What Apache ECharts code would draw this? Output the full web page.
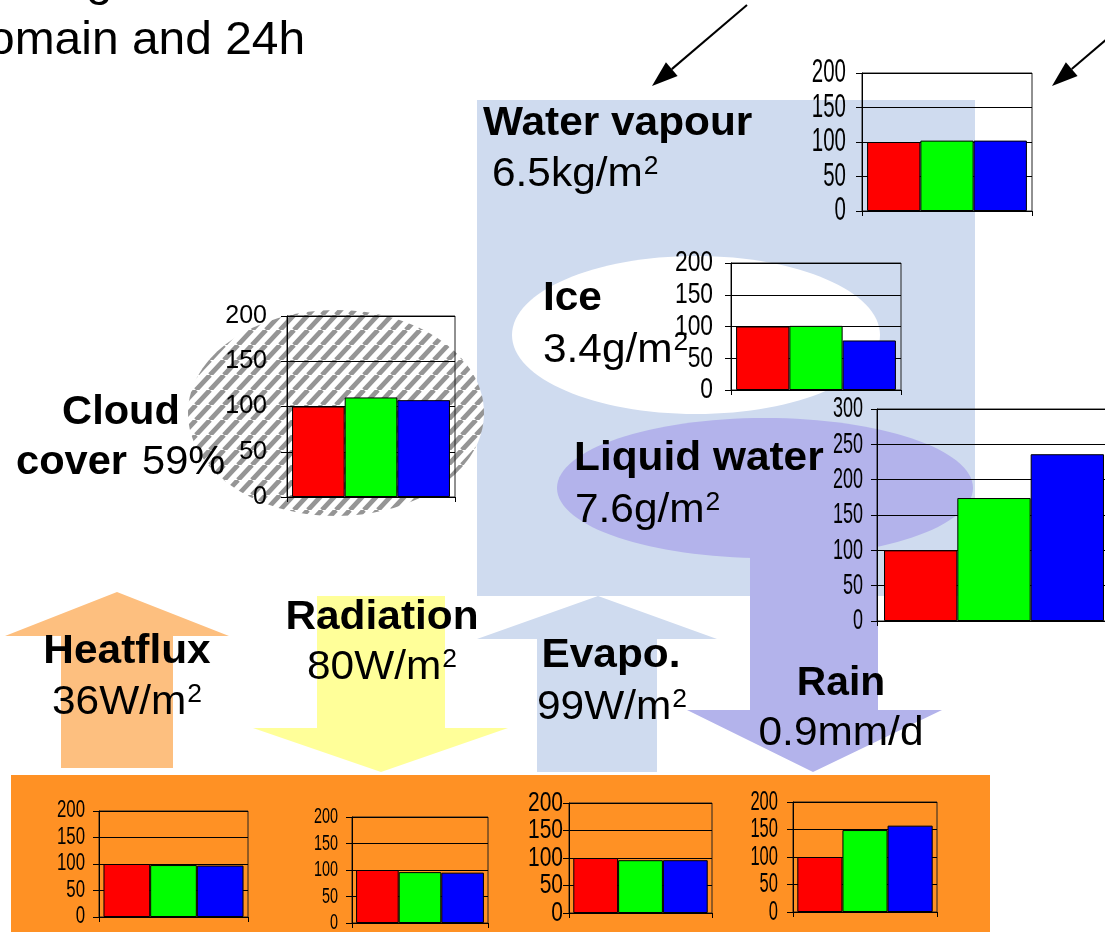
<!DOCTYPE html>
<html>
<head>
<meta charset="utf-8">
<script src="https://cdn.jsdelivr.net/npm/echarts@6/dist/echarts.min.js"></script>
<style>
  html, body { margin: 0; padding: 0; background: #ffffff; }
  #chart { width: 1105px; height: 932px; }
</style>
</head>
<body>
<div id="chart"></div>
<script>
// ---- data: one small bar panel per budget term, three runs each ----
const panelNames  = ['Water vapour', 'Ice', 'Cloud cover', 'Liquid water', 'Heatflux', 'Radiation', 'Evapo.', 'Rain'];
const runNames    = ['Run 1', 'Run 2', 'Run 3'];
const run1Values  = [100, 100, 100, 100, 100, 100, 100, 100];
const run2Values  = [102, 101, 110, 174,  98,  96,  96, 149];
const run3Values  = [102,  78, 107, 236,  97,  95,  96, 157];
const axisMax     = [200, 200, 200, 300, 200, 200, 200, 200];
const tickStep    = 50;
const ticks200    = [0, 50, 100, 150, 200];
const ticks300    = [0, 50, 100, 150, 200, 250, 300];
const panelTicks  = [ticks200, ticks200, ticks200, ticks300, ticks200, ticks200, ticks200, ticks200];

// ---- layout of the panels (pixel boxes) ----
const panelBoxes = [
  { left: 862, top: 73,  width: 170, height: 138 },
  { left: 731, top: 263, width: 170, height: 127 },
  { left: 287, top: 316, width: 168, height: 181 },
  { left: 877, top: 409, width: 234, height: 212 },
  { left: 99,  top: 811, width: 149, height: 106 },
  { left: 352, top: 817, width: 136, height: 106 },
  { left: 569, top: 803, width: 143, height: 110 },
  { left: 793, top: 802, width: 144, height: 110 }
];

const FONT = '"Liberation Sans", Arial, sans-serif';

// tick label look per panel: font size, horizontal squeeze, gap to the axis line
// (panel 2 uses the regular axis labels of the library)
const tickText = [
  { size: 33, squeeze: 0.62, gap: 16 },
  { size: 30, squeeze: 0.76, gap: 18 },
  null,
  { size: 30, squeeze: 0.60, gap: 14 },
  { size: 23, squeeze: 0.73, gap: 14 },
  { size: 22.5, squeeze: 0.64, gap: 14 },
  { size: 28, squeeze: 0.75, gap: 6 },
  { size: 28, squeeze: 0.59, gap: 15 }
];

const runColors = ['#ff0000', '#00ff00', '#0000ff'];
const runValues = [run1Values, run2Values, run3Values];

// ---- diagram colours ----
const C_VAPOUR = '#cfdbef';
const C_LIQUID = '#b3b3eb';
const C_HEAT   = '#fdbf7f';
const C_RAD    = '#ffff99';
const C_GROUND = '#ff9124';

// diagonal hatch used for the cloud ellipse
function hatchPattern() {
  const w = 14, h = 15;
  const c = document.createElement('canvas');
  c.width = w; c.height = h;
  const g = c.getContext('2d');
  g.fillStyle = '#ffffff';
  g.fillRect(0, 0, w, h);
  g.strokeStyle = '#959595';
  g.lineWidth = 4.8;
  g.beginPath();
  for (const k of [-w, 0, w]) {
    g.moveTo(k, h);
    g.lineTo(k + w, 0);
  }
  g.stroke();
  return c;
}

// straight pointer with a filled head
function pointer(x1, y1, x2, y2) {
  const dx = x2 - x1, dy = y2 - y1;
  const L = Math.hypot(dx, dy);
  const ux = dx / L, uy = dy / L;
  const headLen = 26, half = 9;
  const bx = x2 - ux * headLen, by = y2 - uy * headLen;
  return [
    { type: 'line', z: 50, shape: { x1, y1, x2: bx, y2: by }, style: { stroke: '#000', lineWidth: 2 } },
    { type: 'polygon', z: 50, shape: { points: [[x2, y2], [bx - uy * half, by + ux * half], [bx + uy * half, by - ux * half]] }, style: { fill: '#000' } }
  ];
}

const grids = [], xAxes = [], yAxes = [], series = [];
panelBoxes.forEach((box, i) => {
  grids.push(Object.assign({
    show: true, borderColor: '#222', borderWidth: 1, backgroundColor: 'transparent',
    containLabel: false, outerBoundsMode: 'none', z: 5
  }, box));
  xAxes.push({
    gridIndex: i, type: 'category', data: [panelNames[i]],
    axisLine: { show: true, lineStyle: { color: '#000', width: 1 } },
    axisTick: { show: true, length: 5, lineStyle: { color: '#000' } },
    axisLabel: { show: false }, splitLine: { show: false }, z: 6
  });
  yAxes.push({
    gridIndex: i, type: 'value', min: 0, max: axisMax[i], interval: tickStep,
    axisLine: { show: true, lineStyle: { color: '#000', width: 1 } },
    axisTick: { show: true, length: 6, lineStyle: { color: '#000' } },
    splitLine: { show: true, lineStyle: { color: '#000', width: 1 } },
    axisLabel: tickText[i]
      ? { show: false }
      : { color: '#000', fontSize: 25, fontFamily: FONT, margin: 20 },
    z: 5
  });
  runValues.forEach((vals, r) => {
    series.push({
      type: 'bar', name: runNames[r], xAxisIndex: i, yAxisIndex: i,
      data: [vals[i]], barGap: '0%', barCategoryGap: '6%', z: 7,
      itemStyle: { color: runColors[r], borderColor: '#000', borderWidth: 1 }
    });
  });
});

// ---- text helpers ----
const measureCtx = document.createElement('canvas').getContext('2d');
function textWidth(text, font) {
  measureCtx.font = font;
  return measureCtx.measureText(text).width;
}

// a term label, optionally with a raised exponent
function label(main, sup, x, y, bold, align, size, sx) {
  size = size || 40;
  sx = sx || 1.06;
  const font = (bold ? 'bold ' : '') + size + 'px ' + FONT;
  const supFont = '25px ' + FONT;
  const wMain = textWidth(main, font) * sx;
  const wSup = sup ? textWidth(sup, supFont) * sx + 1 : 0;
  const left = align === 'center' ? x - (wMain + wSup) / 2 : x;
  const out = [{
    type: 'text', z: 100, x: left, y: y, scaleX: sx,
    style: { text: main, x: 0, y: 0, font, fill: '#000', align: 'left', verticalAlign: 'middle' }
  }];
  if (sup) {
    out.push({
      type: 'text', z: 100, x: left + wMain + 1, y: y - 8, scaleX: sx,
      style: { text: sup, x: 0, y: 0, font: supFont, fill: '#000', align: 'left', verticalAlign: 'middle' }
    });
  }
  return out;
}

const shapes = [
  // water vapour column
  { type: 'rect', z: -10, shape: { x: 477, y: 100, width: 498, height: 496 }, style: { fill: C_VAPOUR } },
  { type: 'ellipse', z: -9, shape: { cx: 696, cy: 335, rx: 184, ry: 79 }, style: { fill: '#ffffff' } },
  { type: 'ellipse', z: -9, shape: { cx: 765, cy: 488, rx: 208, ry: 70 }, style: { fill: C_LIQUID } },
  // rain
  { type: 'polygon', z: -9, shape: { points: [[750, 500], [878, 500], [878, 710], [942, 710], [813, 772], [687, 710], [750, 710]] }, style: { fill: C_LIQUID } },
  // evaporation
  { type: 'polygon', z: -9, shape: { points: [[537, 772], [537, 639], [477, 639], [598, 596], [717, 639], [657, 639], [657, 772]] }, style: { fill: C_VAPOUR } },
  // heat flux
  { type: 'polygon', z: -9, shape: { points: [[61, 768], [61, 636], [5, 636], [117, 592], [229, 636], [173, 636], [173, 768]] }, style: { fill: C_HEAT } },
  // radiation
  { type: 'polygon', z: -9, shape: { points: [[317, 596], [445, 596], [445, 728], [508, 728], [381, 772], [253, 728], [317, 728]] }, style: { fill: C_RAD } },
  // ground
  { type: 'rect', z: -10, shape: { x: 11, y: 775, width: 979, height: 170 }, style: { fill: C_GROUND } },
  // cloud
  { type: 'ellipse', z: -9, shape: { cx: 336, cy: 413, rx: 148, ry: 103 }, style: { fill: { image: hatchPattern(), repeat: 'repeat' } } }
];

const texts = [].concat(
  label('g', null, 86, -18, false, 'left', 47, 1.02),
  label('omain and 24h', null, -12, 41, false, 'left', 47, 1.02),
  label('Water vapour', null, 483, 124, true),
  label('6.5kg/m', '2', 492, 175, false),
  label('Ice', null, 543, 299, true),
  label('3.4g/m', '2', 543, 351, false),
  label('Liquid water', null, 574, 459, true),
  label('7.6g/m', '2', 575, 511, false),
  label('Cloud', null, 121, 413, true, 'center', 40, 1.04),
  label('cover', null, 16, 463, true, 'left', 40, 1.04),
  label('59%', null, 142, 463, false, 'left', 40, 1.04),
  label('Heatflux', null, 127, 652, true, 'center'),
  label('36W/m', '2', 127, 703, false, 'center'),
  label('Radiation', null, 382, 618, true, 'center'),
  label('80W/m', '2', 382, 668, false, 'center'),
  label('Evapo.', null, 611, 656, true, 'center'),
  label('99W/m', '2', 612, 708, false, 'center'),
  label('Rain', null, 841, 684, true, 'center', 40, 1.02),
  label('0.9mm/d', null, 841, 734, false, 'center')
);

const pointers = [].concat(pointer(747, 5, 652, 86), pointer(1108, 38, 1052, 86));

const chart = echarts.init(document.getElementById('chart'), null, { renderer: 'canvas', width: 1105, height: 932 });
chart.setOption({
  animation: false,
  backgroundColor: '#ffffff',
  graphic: { elements: shapes.concat(pointers, texts) },
  grid: grids,
  xAxis: xAxes,
  yAxis: yAxes,
  series: series
});

// squeezed tick labels, placed on each value axis through its own scale
const tickLabels = [];
panelTicks.forEach((ticks, i) => {
  const st = tickText[i];
  if (!st) return;
  const font = st.size + 'px ' + FONT;
  ticks.forEach(v => {
    const py = chart.convertToPixel({ yAxisIndex: i }, v);
    tickLabels.push({
      type: 'text', z: 90, x: panelBoxes[i].left - st.gap, y: py, scaleX: st.squeeze,
      style: { text: String(v), x: 0, y: 0, font, fill: '#000', align: 'right', verticalAlign: 'middle' }
    });
  });
});
chart.setOption({ graphic: { elements: shapes.concat(pointers, texts, tickLabels) } });
</script>
</body>
</html>
